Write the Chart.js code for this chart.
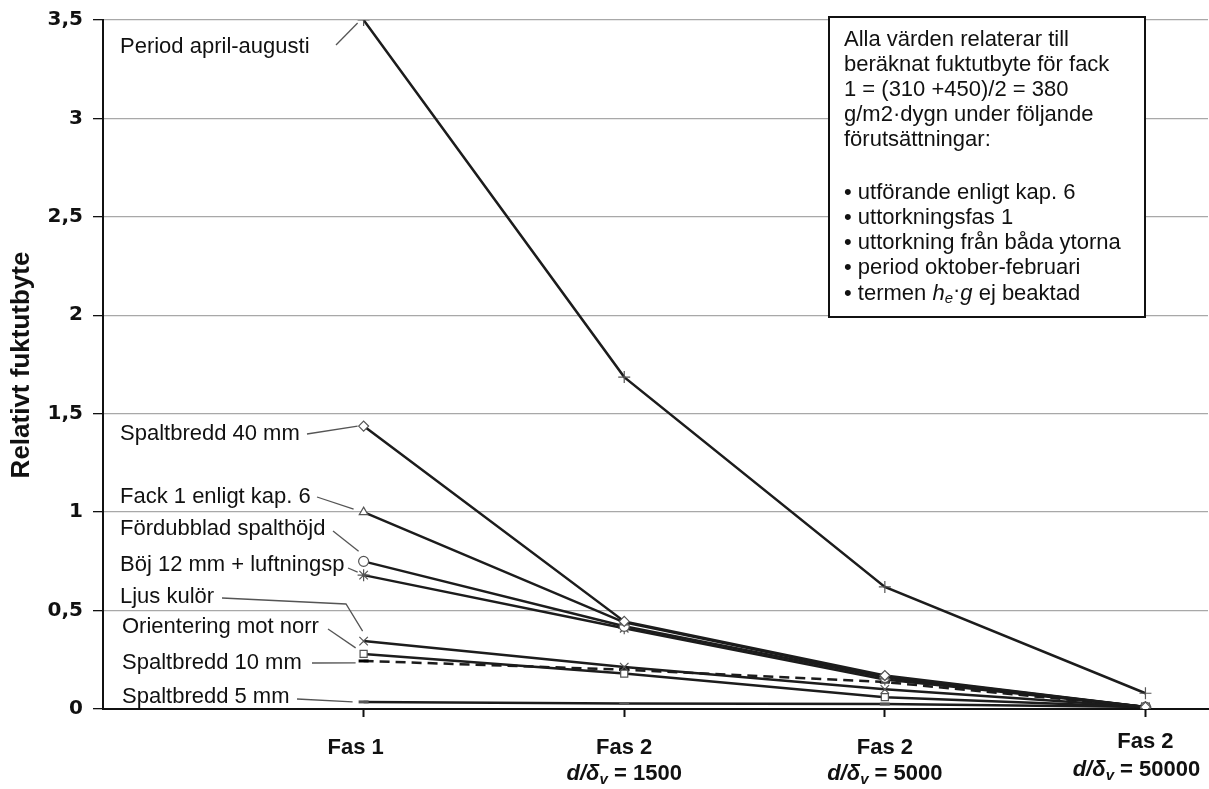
<!DOCTYPE html>
<html>
<head>
<meta charset="utf-8">
<script src="https://cdn.jsdelivr.net/npm/chart.js@4"></script>
<style>
  html, body { margin: 0; padding: 0; background: #fff; }
</style>
</head>
<body>
<canvas id="fuktChart" width="1209" height="789"></canvas>
<script>
// category positions on the x axis (1..4) and their labels
const categories = ['Fas 1', 'Fas 2', 'Fas 2', 'Fas 2'];
const ratios = ['', '1500', '5000', '50000'];
const yTicks = [0, 0.5, 1, 1.5, 2, 2.5, 3, 3.5];

// values, Fas 1 -> 50000
const periodAprilAugusti = [3.5, 1.686, 0.62, 0.08];
const spaltbredd40 = [1.437, 0.445, 0.17, 0.01];
const fack1 = [1.0, 0.44, 0.165, 0.01];
const fordubbladSpalthojd = [0.75, 0.42, 0.16, 0.01];
const boj12 = [0.68, 0.41, 0.15, 0.01];
const ljusKulor = [0.345, 0.213, 0.1, 0.01];
const orienteringNorr = [0.28, 0.18, 0.06, 0.01];
const spaltbredd10 = [0.244, 0.2, 0.137, 0.01];
const spaltbredd5 = [0.036, 0.028, 0.025, 0.01];

const seriesNames = [
    'Period april-augusti', 'Spaltbredd 40 mm', 'Fack 1 enligt kap. 6',
    'Fördubblad spalthöjd', 'Böj 12 mm + luftningsp', 'Ljus kulör',
    'Orientering mot norr', 'Spaltbredd 10 mm', 'Spaltbredd 5 mm'
];
const seriesValues = [
    periodAprilAugusti, spaltbredd40, fack1, fordubbladSpalthojd, boj12,
    ljusKulor, orienteringNorr, spaltbredd10, spaltbredd5
];
const markers = ['cross', 'rectRot', 'triangle', 'circle', 'star', 'crossRot', 'rect', 'line', 'line'];

function toPoints(vals) {
    return vals.map((v, i) => ({ x: i + 1, y: v }));
}

const datasets = seriesValues.map((vals, i) => ({
    label: seriesNames[i],
    data: toPoints(vals),
    borderColor: '#1c1c1c',
    borderWidth: 2.5,
    borderDash: i === 7 ? [10, 6] : [],
    pointStyle: markers[i],
    pointRadius: i === 0 || i === 4 || i === 5 ? 6 : 5,
    pointBackgroundColor: '#fff',
    pointBorderColor: i === 7 ? '#000' : '#555',
    pointBorderWidth: i >= 7 ? 3 : 1.2,
    fill: false,
    tension: 0
}));

// leader-line labels on the left side of the plot
const labelLayout = [
    { s: 0, tx: 120, ty: 47, path: [[336, 45]], off: [-6, 3] },
    { s: 1, tx: 120, ty: 434, path: [[307, 434]], off: [-6, 0] },
    { s: 2, tx: 120, ty: 497, path: [[317, 497]], off: [-10, -3] },
    { s: 3, tx: 120, ty: 529, path: [[333, 531]], off: [-5, -10] },
    { s: 4, tx: 120, ty: 565, path: [[348, 568]], off: [-6, -3] },
    { s: 5, tx: 120, ty: 597, path: [[222, 598], [346, 604]], off: [-1, -10] },
    { s: 6, tx: 122, ty: 627, path: [[328, 629]], off: [-8, -6] },
    { s: 7, tx: 122, ty: 663, path: [[312, 663]], off: [-8, 2] },
    { s: 8, tx: 122, ty: 697, path: [[297, 699]], off: [-11, 0] }
];

function drawRuns(c, runs, x, y, align) {
    // runs: [{t, font, dy}]
    let w = 0;
    runs.forEach(r => { c.font = r.font; w += c.measureText(r.t).width; });
    let cx = align === 'center' ? x - w / 2 : x;
    runs.forEach(r => {
        c.font = r.font;
        c.fillText(r.t, cx, y + (r.dy || 0));
        cx += c.measureText(r.t).width;
    });
}

const annotate = {
    id: 'annotate',
    afterDraw(chart) {
        const c = chart.ctx;
        const xs = chart.scales.x;
        c.save();

        // y axis title
        c.fillStyle = '#111';
        c.font = 'bold 26px "Liberation Sans", Arial, sans-serif';
        c.textAlign = 'center';
        c.textBaseline = 'middle';
        c.translate(22, 365);
        c.rotate(-Math.PI / 2);
        c.fillText('Relativt fuktutbyte', 0, 0);
        c.setTransform(1, 0, 0, 1, 0, 0);

        // x category labels
        c.textAlign = 'left';
        c.textBaseline = 'middle';
        const bold = 'bold 22px "Liberation Sans", Arial, sans-serif';
        const boldIt = 'italic bold 22px "Liberation Sans", Arial, sans-serif';
        const subIt = 'italic bold 15px "Liberation Sans", Arial, sans-serif';
        categories.forEach((cat, i) => {
            const px = xs.getPixelForValue(i + 1);
            const last = i === categories.length - 1;
            const y1 = last ? 742 : 748;
            drawRuns(c, [{ t: cat, font: bold }], px - (i === 0 ? 8 : 0), y1, 'center');
            if (ratios[i]) {
                drawRuns(c, [
                    { t: 'd/', font: boldIt },
                    { t: 'δ', font: boldIt },
                    { t: 'v', font: subIt, dy: 6 },
                    { t: ' = ' + ratios[i], font: bold }
                ], px - (last ? 9 : 0), last ? 770 : 774, 'center');
            }
        });

        // series labels with leader lines
        c.font = '22px "Liberation Sans", Arial, sans-serif';
        c.fillStyle = '#111';
        c.textBaseline = 'middle';
        labelLayout.forEach(l => {
            c.fillText(seriesNames[l.s], l.tx, l.ty);
            const meta = chart.getDatasetMeta(l.s).data[0];
            c.beginPath();
            c.strokeStyle = '#555';
            c.lineWidth = 1.3;
            c.moveTo(l.path[0][0], l.path[0][1]);
            for (let k = 1; k < l.path.length; k++) c.lineTo(l.path[k][0], l.path[k][1]);
            c.lineTo(meta.x + l.off[0], meta.y + l.off[1]);
            c.stroke();
        });

        // info box
        c.fillStyle = '#fff';
        c.fillRect(829, 17, 316, 300);
        c.strokeStyle = '#111';
        c.lineWidth = 2;
        c.strokeRect(829, 17, 316, 300);
        c.fillStyle = '#111';
        const reg = '22px "Liberation Sans", Arial, sans-serif';
        const it = 'italic 22px "Liberation Sans", Arial, sans-serif';
        const sub = 'italic 15px "Liberation Sans", Arial, sans-serif';
        const boxLines = [
            [40, 'Alla värden relaterar till'],
            [65, 'beräknat fuktutbyte för fack'],
            [90, '1 = (310 +450)/2 = 380'],
            [115, 'g/m2·dygn under följande'],
            [140, 'förutsättningar:'],
            [193, '• utförande enligt kap. 6'],
            [218, '• uttorkningsfas 1'],
            [243, '• uttorkning från båda ytorna'],
            [268, '• period oktober-februari']
        ];
        c.font = reg;
        boxLines.forEach(b => c.fillText(b[1], 844, b[0]));
        drawRuns(c, [
            { t: '• termen ', font: reg },
            { t: 'h', font: it },
            { t: 'e', font: sub, dy: 5 },
            { t: '·', font: reg, dy: -3 },
            { t: 'g', font: it },
            { t: ' ej beaktad', font: reg }
        ], 844, 294, 'left');

        c.restore();
    }
};

const ctx = document.getElementById('fuktChart').getContext('2d');
const chart = new Chart(ctx, {
    type: 'line',
    data: { datasets: datasets },
    options: {
        responsive: false,
        animation: false,
        layout: { autoPadding: false, padding: { top: 20, right: 1, left: 0, bottom: 0 } },
        plugins: { legend: { display: false }, tooltip: { enabled: false } },
        scales: {
            x: {
                type: 'linear',
                min: 0,
                max: 4.24,
                afterFit: s => { s.height = 80; s.paddingRight = 0; s.paddingLeft = 0; },
                afterBuildTicks: s => { s.ticks = categories.map((c, i) => ({ value: i + 1 })); },
                ticks: { display: false },
                grid: { drawOnChartArea: false, tickLength: 8, tickColor: '#111', tickWidth: 2 },
                border: { color: '#111', width: 2 }
            },
            y: {
                min: 0,
                max: 3.5,
                afterFit: s => { s.width = 103; s.paddingTop = 0; s.paddingBottom = 0; },
                afterBuildTicks: s => { s.ticks = yTicks.map(v => ({ value: v })); },
                ticks: {
                    callback: v => String(v).replace('.', ','),
                    font: { family: '"DejaVu Sans"', weight: 'bold', size: 20 },
                    color: '#111',
                    padding: 10
                },
                grid: { color: '#a8a8a8', lineWidth: 1.3, tickLength: 10, tickColor: '#111' },
                border: { color: '#111', width: 2 }
            }
        }
    },
    plugins: [annotate]
});
</script>
</body>
</html>
